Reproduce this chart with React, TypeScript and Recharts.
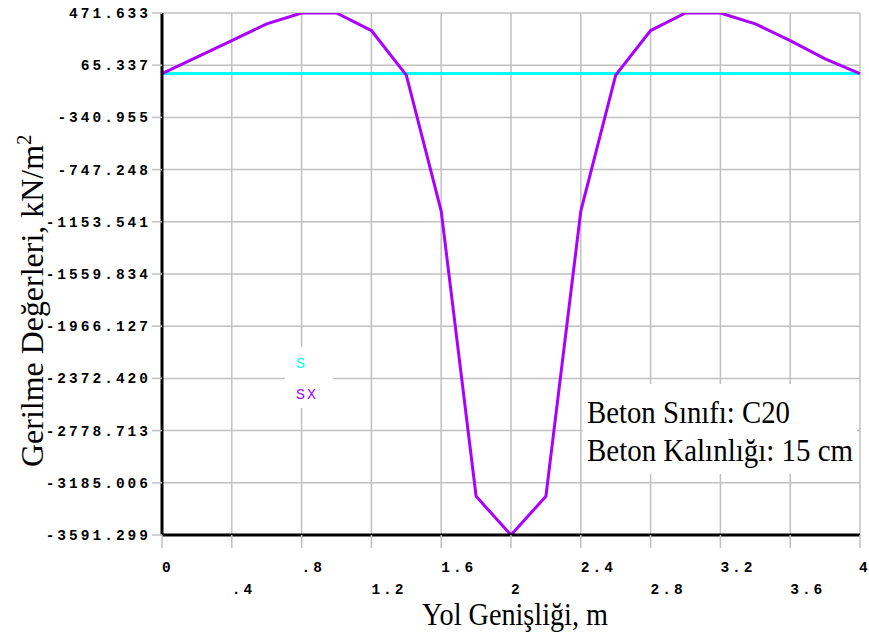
import React from 'react';
import { LineChart, Line, XAxis, YAxis, CartesianGrid, Customized } from 'recharts';

const xValues = [0, 0.2, 0.4, 0.6, 0.8, 1.0, 1.2, 1.4, 1.6, 1.8, 2.0, 2.2, 2.4, 2.6, 2.8, 3.0, 3.2, 3.4, 3.6, 3.8, 4.0];
const sxValues = [0, 128, 257, 387, 471.633, 471.633, 335, -12, -1070, -3290, -3591.299, -3290, -1070, -12, 335, 471.633, 471.633, 387, 257, 115, 0];
const sValues = [0, 0, 0, 0, 0, 0, 0, 0, 0, 0, 0, 0, 0, 0, 0, 0, 0, 0, 0, 0, 0];

const yTicks = [471.633, 65.337, -340.955, -747.248, -1153.541, -1559.834, -1966.127, -2372.42, -2778.713, -3185.006, -3591.299];
const yTickLabels = ['471.633', '65.337', '-340.955', '-747.248', '-1153.541', '-1559.834', '-1966.127', '-2372.420', '-2778.713', '-3185.006', '-3591.299'];
const xTicks = [0, 0.4, 0.8, 1.2, 1.6, 2.0, 2.4, 2.8, 3.2, 3.6, 4.0];
const xTickLabels = ['0', '.4', '.8', '1.2', '1.6', '2', '2.4', '2.8', '3.2', '3.6', '4'];

const seriesNames = ['S', 'SX'];
const seriesColors = ['#00FFFF', '#AA00FF'];
const annotationLines = ['Beton Sınıfı: C20', 'Beton Kalınlığı: 15 cm'];
const annotationWidths = [203, 266];
const xTitle = 'Yol Genişliği, m';
const yTitle = 'Gerilme Değerleri, kN/m';

const data = xValues.map((x, i) => ({ x, S: sValues[i], SX: sxValues[i] }));

const MONO = '"Liberation Mono", "DejaVu Sans Mono", monospace';
const SERIF = '"Liberation Serif", "DejaVu Serif", serif';

const XTick = (props: any) => {
  const { x, y, payload, index } = props;
  const idx = xTicks.indexOf(payload.value);
  const label = idx >= 0 ? xTickLabels[idx] : String(payload.value);
  const row = (idx >= 0 ? idx : index) % 2;
  const last = idx === xTicks.length - 1;
  return (
    <text x={last ? x - 1 : x} y={y + (row === 0 ? 22 : 44)} textAnchor="start" fontFamily={MONO} fontWeight="bold" fontSize={14.5} letterSpacing={last ? 0 : 3} fill="#000">
      {label}
    </text>
  );
};

const YTick = (props: any) => {
  const { x, y, payload } = props;
  const idx = yTicks.indexOf(payload.value);
  const label = idx >= 0 ? yTickLabels[idx] : String(payload.value);
  return (
    <text x={x + 1} y={y + 5} textAnchor="end" fontFamily={MONO} fontWeight="bold" fontSize={14.5} letterSpacing={3} fill="#000">
      {label}
    </text>
  );
};

const Overlay = () => (
  <g>
    <rect x={285} y={347} width={48} height={61} fill="#fff" />
    {seriesNames.map((n, i) => (
      <text key={n} x={296} y={368 + i * 31} fontFamily={MONO} fontSize={15} letterSpacing={2} fill={seriesColors[i]}>
        {n}
      </text>
    ))}
    <rect x={583} y={384} width={274} height={90} fill="#fff" />
    {annotationLines.map((t, i) => (
      <text key={i} x={587} y={423 + i * 38} fontFamily={SERIF} fontSize={31} textLength={annotationWidths[i]} lengthAdjust="spacingAndGlyphs" fill="#000">
        {t}
      </text>
    ))}
    <text x={422} y={625} fontFamily={SERIF} fontSize={31} textLength={186} lengthAdjust="spacingAndGlyphs" fill="#000">
      {xTitle}
    </text>
    <text transform="translate(43,467) rotate(-90)" x={0} y={0} fontFamily={SERIF} fontSize={32} fill="#000">
      <tspan textLength={322} lengthAdjust="spacingAndGlyphs">{yTitle}</tspan>
      <tspan dy={-12} fontSize={21}>2</tspan>
    </text>
  </g>
);

export default function App() {
  return (
    <div style={{ position: 'absolute', left: 0, top: 0, width: 869, height: 637, background: '#fff' }}>
      <LineChart width={869} height={637} data={data} margin={{ top: 13, right: 9, bottom: 0, left: 0 }}>
        <CartesianGrid stroke="#c0c0c0" strokeWidth={1.5} />
        <XAxis
          dataKey="x"
          type="number"
          domain={[0, 4]}
          ticks={xTicks}
          interval={0}
          height={102}
          axisLine={{ stroke: '#000', strokeWidth: 3 }}
          tickLine={{ stroke: '#c0c0c0', strokeWidth: 1.5 }}
          tickSize={13}
          tick={<XTick />}
        />
        <YAxis
          type="number"
          domain={[-3591.299, 471.633]}
          ticks={yTicks}
          interval={0}
          width={162}
          allowDataOverflow
          axisLine={{ stroke: '#000', strokeWidth: 3 }}
          tickLine={{ stroke: '#c0c0c0', strokeWidth: 1.5 }}
          tickSize={10}
          tick={<YTick />}
        />
        <Customized component={Overlay} />
        <Line dataKey="S" name={seriesNames[0]} stroke={seriesColors[0]} strokeWidth={3} dot={false} isAnimationActive={false} />
        <Line dataKey="SX" name={seriesNames[1]} stroke={seriesColors[1]} strokeWidth={3} dot={false} isAnimationActive={false} />
      </LineChart>
    </div>
  );
}
